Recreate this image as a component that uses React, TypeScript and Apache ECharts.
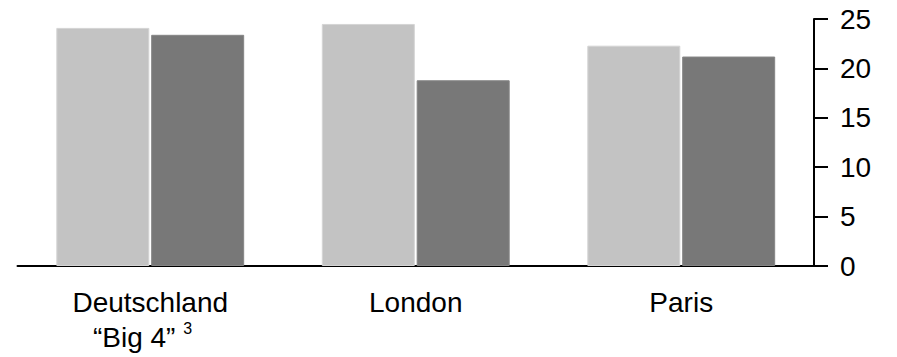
import React, { useEffect, useRef } from "react";
import * as echarts from "echarts";

const categories = ["Deutschland\n“Big 4” {sup|3}  ", "London", "Paris"];
const seriesLight = [24.1, 24.5, 22.3];
const seriesDark = [23.4, 18.8, 21.2];
const yTicks = { min: 0, max: 25, interval: 5 };

export default function App() {
  const ref = useRef<HTMLDivElement>(null);
  useEffect(() => {
    document.body.style.margin = "0";
    const chart = echarts.init(ref.current!, null, { renderer: "svg" });
    const font = "Liberation Sans, Arial, sans-serif";
    chart.setOption({
      animation: false,
      grid: { left: 17.5, right: 83, top: 19, bottom: 91, containLabel: false },
      xAxis: {
        type: "category",
        data: categories,
        axisLine: { show: true, lineStyle: { color: "#000", width: 2 } },
        axisTick: { show: false },
        axisLabel: {
          color: "#000",
          fontSize: 28,
          fontFamily: font,
          lineHeight: 35,
          margin: 19,
          interval: 0,
          rich: {
            sup: { fontSize: 16, lineHeight: 20, verticalAlign: "top", color: "#000", fontFamily: font },
          },
        },
      },
      yAxis: {
        type: "value",
        position: "right",
        min: yTicks.min,
        max: yTicks.max,
        interval: yTicks.interval,
        axisLine: { show: true, lineStyle: { color: "#000", width: 2 } },
        axisTick: { show: true, inside: false, length: 14, lineStyle: { color: "#000", width: 2 } },
        splitLine: { show: false },
        axisLabel: { color: "#000", fontSize: 28, fontFamily: font, margin: 26 },
      },
      series: [
        {
          type: "bar",
          data: seriesLight,
          barWidth: 93,
          barGap: "2%",
          itemStyle: { color: "#c3c3c3", borderColor: "#d4d4d4", borderWidth: 1 },
        },
        {
          type: "bar",
          data: seriesDark,
          barWidth: 93,
          itemStyle: { color: "#787878", borderColor: "#858585", borderWidth: 1 },
        },
      ],
    });
    return () => chart.dispose();
  }, []);
  return <div ref={ref} style={{ width: 897, height: 357 }} />;
}
